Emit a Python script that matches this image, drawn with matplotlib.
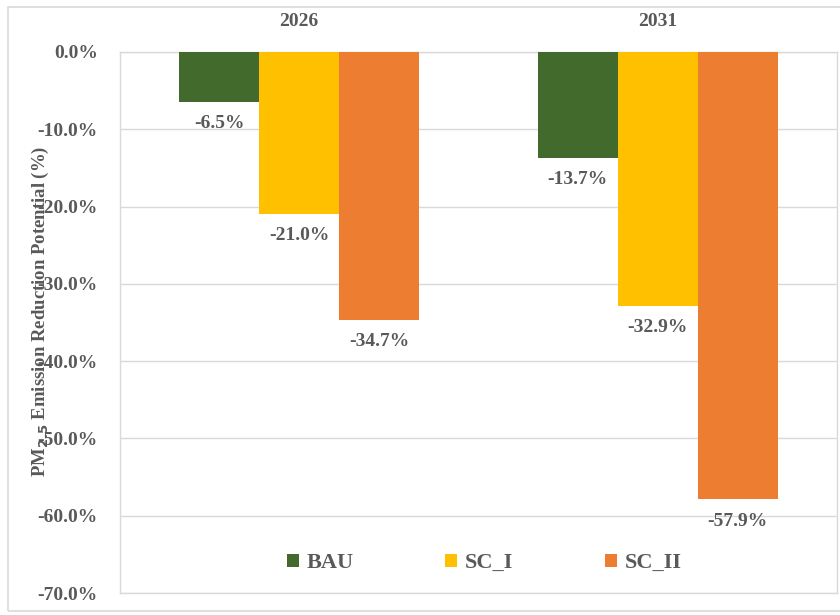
import matplotlib.pyplot as plt
import numpy as np
from matplotlib.patches import Rectangle

# =============== data ===============
years = ['2026', '2031']
scenarios = ['BAU', 'SC_I', 'SC_II']
bau = [-6.5, -13.7]
sc_1 = [-21.0, -32.9]
sc_2 = [-34.7, -57.9]
y_ticks = [0, -10, -20, -30, -40, -50, -60, -70]

colors = ['#426A2C', '#FFC000', '#ED7D31']
text_col = '#595959'
grid_col = '#D9D9D9'

plt.rcParams['font.family'] = ['Liberation Serif', 'DejaVu Serif']
plt.rcParams['font.weight'] = 'bold'

fig = plt.figure(figsize=(8.4, 6.15), dpi=100)
ax = fig.add_axes([120 / 840, 1 - 593 / 615, 717 / 840, 541 / 615])

# chart area border (right side runs off the picture)
fig.patches.append(Rectangle((8 / 840, 1 - 611 / 615), 840 / 840, 604 / 615,
                             transform=fig.transFigure, fill=False,
                             edgecolor=grid_col, lw=1.2, zorder=0))

x = np.arange(len(years))
w = 0.2232
series = [bau, sc_1, sc_2]
for k, (name, vals) in enumerate(zip(scenarios, series)):
    xs = x + (k - 1) * w
    ax.bar(xs, vals, width=w, color=colors[k], label=name, zorder=3)
    for xi, v in zip(xs, vals):
        ax.annotate('%.1f%%' % v, (xi, v), xytext=(0, -15.5), textcoords='offset points',
                    ha='center', va='center', fontsize=14, fontweight='bold',
                    color=text_col, zorder=4)

ax.set_xlim(-0.5, 1.5)
ax.set_ylim(-70, 0)
ax.set_yticks(y_ticks)
ax.set_yticklabels(['%.1f%%' % t for t in y_ticks])
ax.yaxis.grid(True, color=grid_col, lw=1, zorder=0)

ax.xaxis.tick_top()
ax.set_xticks(x)
ax.set_xticklabels(years)
ax.tick_params(axis='x', length=0, pad=16, labelsize=14, labelcolor=text_col)
ax.tick_params(axis='y', length=0, pad=16, labelsize=14, labelcolor=text_col)

for s in ax.spines.values():
    s.set_color(grid_col)
    s.set_linewidth(1)

ax.set_ylabel('PM$_{\\mathbf{2.5}}$ Emission Reduction Potential (%)',
              fontsize=13.5, fontweight='bold', color=text_col)
ax.yaxis.set_label_coords(-69 / 717, 0.52)

leg = ax.legend(loc='center', bbox_to_anchor=(0.508, 0.055), ncol=3, frameon=False,
                fontsize=16, handlelength=0.55, handleheight=0.55, handletextpad=0.35,
                columnspacing=4.1, borderaxespad=0)
for t in leg.get_texts():
    t.set_color(text_col)

fig.savefig('out.png', dpi=100)
